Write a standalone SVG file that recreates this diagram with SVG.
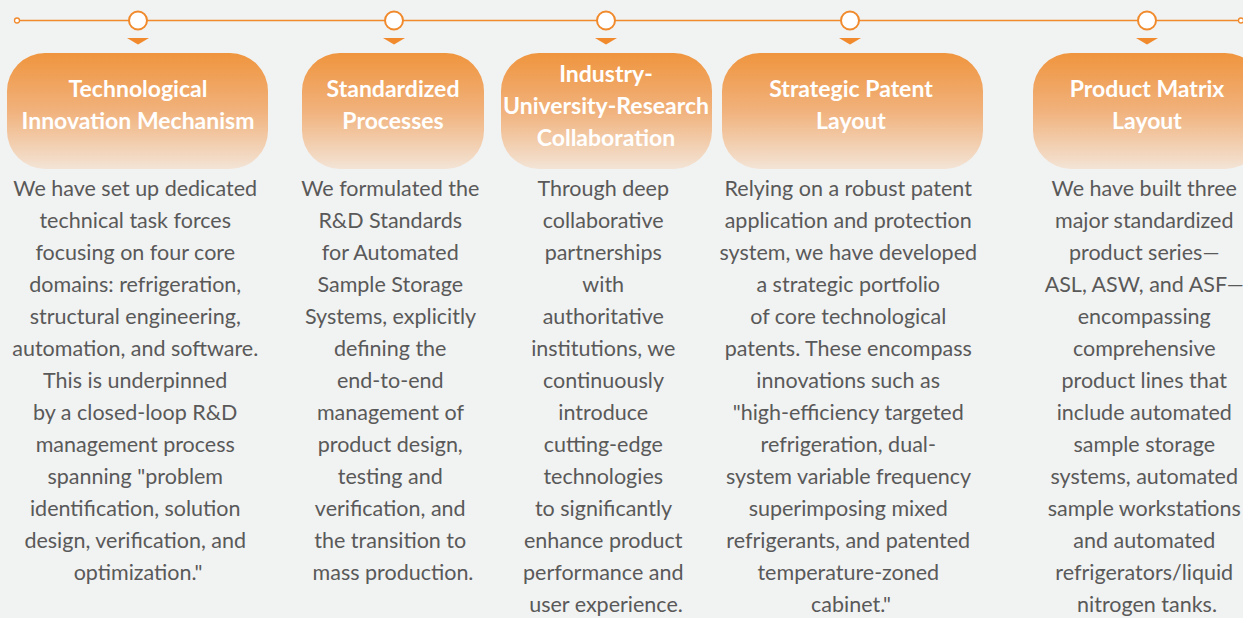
<svg xmlns="http://www.w3.org/2000/svg" width="1243" height="618" viewBox="0 0 1243 618">
<defs>
<linearGradient id="g" x1="0" y1="0" x2="0" y2="1">
<stop offset="0" stop-color="#ef953e"/>
<stop offset="0.5" stop-color="#f1b27c"/>
<stop offset="1" stop-color="#f3e4d6"/>
</linearGradient>
<style>
.box{fill:url(#g);}
.t{font-family:Lato,"Open Sans",sans-serif;font-weight:bold;font-size:23px;fill:#fff;text-anchor:middle;}
.b{font-family:Lato,"Open Sans",sans-serif;font-size:21.5px;fill:#595959;text-anchor:middle;}
.dot{fill:#fff;stroke:#f08a2c;stroke-width:2;}
.tri{fill:#f08a2c;}
</style>
</defs>
<rect width="1243" height="618" fill="#f1f2f2"/>
<g id="connectors">
<line x1="19.5" y1="20.5" x2="1238.5" y2="20.5" stroke="#f08a2c" stroke-width="1.5"/>
<circle cx="17" cy="20.5" r="2.5" fill="#fff" stroke="#f08a2c" stroke-width="1.3"/>
<circle cx="1241" cy="20.5" r="2.5" fill="#fff" stroke="#f08a2c" stroke-width="1.3"/>
</g>
<g id="node1">
<circle class="dot" cx="138" cy="20.5" r="9"/>
<polygon class="tri" points="127,38 149,38 138,44.5"/>
<rect class="box" x="7" y="53" width="261" height="116" rx="38"/>
<text class="t" x="138" y="97">Technological</text>
<text class="t" x="138" y="129">Innovation Mechanism</text>
<text class="b" x="138">
<tspan x="138" y="196">We have set up dedicated</tspan>
<tspan x="138" y="228">technical task forces</tspan>
<tspan x="138" y="260">focusing on four core</tspan>
<tspan x="138" y="292">domains: refrigeration,</tspan>
<tspan x="138" y="324">structural engineering,</tspan>
<tspan x="138" y="356">automation, and software.</tspan>
<tspan x="138" y="388">This is underpinned</tspan>
<tspan x="138" y="420">by a closed-loop R&amp;D</tspan>
<tspan x="138" y="452">management process</tspan>
<tspan x="138" y="484">spanning "problem</tspan>
<tspan x="138" y="516">identification, solution</tspan>
<tspan x="138" y="548">design, verification, and</tspan>
<tspan x="138" y="580">optimization."</tspan>
</text>
</g>
<g id="node2">
<circle class="dot" cx="394" cy="20.5" r="9"/>
<polygon class="tri" points="383,38 405,38 394,44.5"/>
<rect class="box" x="302" y="53" width="182" height="116" rx="38"/>
<text class="t" x="393" y="97">Standardized</text>
<text class="t" x="393" y="129">Processes</text>
<text class="b">
<tspan x="393" y="196">We formulated the</tspan>
<tspan x="393" y="228">R&amp;D Standards</tspan>
<tspan x="393" y="260">for Automated</tspan>
<tspan x="393" y="292">Sample Storage</tspan>
<tspan x="393" y="324">Systems, explicitly</tspan>
<tspan x="393" y="356">defining the</tspan>
<tspan x="393" y="388">end-to-end</tspan>
<tspan x="393" y="420">management of</tspan>
<tspan x="393" y="452">product design,</tspan>
<tspan x="393" y="484">testing and</tspan>
<tspan x="393" y="516">verification, and</tspan>
<tspan x="393" y="548">the transition to</tspan>
<tspan x="393" y="580">mass production.</tspan>
</text>
</g>
<g id="node3">
<circle class="dot" cx="606" cy="20.5" r="9"/>
<polygon class="tri" points="595,38 617,38 606,44.5"/>
<rect class="box" x="501" y="53" width="211" height="116" rx="38"/>
<text class="t" x="606" y="82">Industry-</text>
<text class="t" x="606" y="114">University-Research</text>
<text class="t" x="606" y="146">Collaboration</text>
<text class="b">
<tspan x="606" y="196">Through deep</tspan>
<tspan x="606" y="228">collaborative</tspan>
<tspan x="606" y="260">partnerships</tspan>
<tspan x="606" y="292">with</tspan>
<tspan x="606" y="324">authoritative</tspan>
<tspan x="606" y="356">institutions, we</tspan>
<tspan x="606" y="388">continuously</tspan>
<tspan x="606" y="420">introduce</tspan>
<tspan x="606" y="452">cutting-edge</tspan>
<tspan x="606" y="484">technologies</tspan>
<tspan x="606" y="516">to significantly</tspan>
<tspan x="606" y="548">enhance product</tspan>
<tspan x="606" y="580">performance and</tspan>
<tspan x="606" y="612">user experience.</tspan>
</text>
</g>
<g id="node4">
<circle class="dot" cx="850" cy="20.5" r="9"/>
<polygon class="tri" points="839,38 861,38 850,44.5"/>
<rect class="box" x="722" y="53" width="261" height="116" rx="38"/>
<text class="t" x="851" y="97">Strategic Patent</text>
<text class="t" x="851" y="129">Layout</text>
<text class="b">
<tspan x="851" y="196">Relying on a robust patent</tspan>
<tspan x="851" y="228">application and protection</tspan>
<tspan x="851" y="260">system, we have developed</tspan>
<tspan x="851" y="292">a strategic portfolio</tspan>
<tspan x="851" y="324">of core technological</tspan>
<tspan x="851" y="356">patents. These encompass</tspan>
<tspan x="851" y="388">innovations such as</tspan>
<tspan x="851" y="420">"high-efficiency targeted</tspan>
<tspan x="851" y="452">refrigeration, dual-</tspan>
<tspan x="851" y="484">system variable frequency</tspan>
<tspan x="851" y="516">superimposing mixed</tspan>
<tspan x="851" y="548">refrigerants, and patented</tspan>
<tspan x="851" y="580">temperature-zoned</tspan>
<tspan x="851" y="612">cabinet."</tspan>
</text>
</g>
<g id="node5">
<circle class="dot" cx="1147" cy="20.5" r="9"/>
<polygon class="tri" points="1136,38 1158,38 1147,44.5"/>
<rect class="box" x="1033" y="53" width="230" height="116" rx="38"/>
<text class="t" x="1147" y="97">Product Matrix</text>
<text class="t" x="1147" y="129">Layout</text>
<text class="b">
<tspan x="1147" y="196">We have built three</tspan>
<tspan x="1147" y="228">major standardized</tspan>
<tspan x="1147" y="260">product series—</tspan>
<tspan x="1147" y="292">ASL, ASW, and ASF—</tspan>
<tspan x="1147" y="324">encompassing</tspan>
<tspan x="1147" y="356">comprehensive</tspan>
<tspan x="1147" y="388">product lines that</tspan>
<tspan x="1147" y="420">include automated</tspan>
<tspan x="1147" y="452">sample storage</tspan>
<tspan x="1147" y="484">systems, automated</tspan>
<tspan x="1147" y="516">sample workstations</tspan>
<tspan x="1147" y="548">and automated</tspan>
<tspan x="1147" y="580">refrigerators/liquid</tspan>
<tspan x="1147" y="612">nitrogen tanks.</tspan>
</text>
</g>
</svg>
